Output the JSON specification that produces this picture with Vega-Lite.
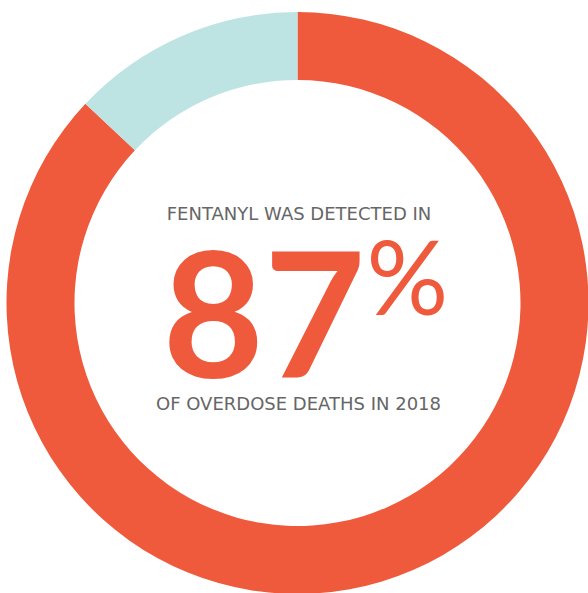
{
  "$schema": "https://vega.github.io/schema/vega-lite/v6.json",
  "width": 595,
  "height": 606,
  "padding": 0,
  "autosize": {"type": "none"},
  "background": "white",
  "view": {"stroke": null},
  "layer": [
    {
      "data": {"values": [
        {"category": "Fentanyl detected", "share": 87, "order": 1},
        {"category": "Fentanyl not detected", "share": 13, "order": 2}
      ]},
      "mark": {"type": "arc", "outerRadius": 291, "innerRadius": 223},
      "encoding": {
        "theta": {"field": "share", "type": "quantitative", "stack": true},
        "order": {"field": "order", "type": "quantitative"},
        "color": {
          "field": "category", "type": "nominal",
          "scale": {"domain": ["Fentanyl detected", "Fentanyl not detected"], "range": ["#EE5A3B", "#BDE3E3"]},
          "legend": null
        }
      }
    },
    {
      "data": {"values": [{"t": "FENTANYL WAS DETECTED IN"}]},
      "mark": {"type": "text", "font": "DejaVu Sans", "fontSize": 18, "color": "#666666", "align": "center", "baseline": "middle", "dx": 1.5, "dy": -88},
      "encoding": {"text": {"field": "t", "type": "nominal"}}
    },
    {
      "data": {"values": [{"t": "OF OVERDOSE DEATHS IN 2018"}]},
      "mark": {"type": "text", "font": "DejaVu Sans", "fontSize": 18, "color": "#666666", "align": "center", "baseline": "middle", "dx": 1, "dy": 102},
      "encoding": {"text": {"field": "t", "type": "nominal"}}
    },
    {
      "data": {"values": [{"t": "87"}]},
      "mark": {"type": "text", "font": "Lato", "fontWeight": "bold", "fontSize": 175, "color": "#EE5A3B", "align": "right", "baseline": "alphabetic", "dx": 68, "dy": 75},
      "encoding": {"text": {"field": "t", "type": "nominal"}}
    },
    {
      "data": {"values": [{"t": "%"}]},
      "mark": {"type": "text", "font": "Lato", "fontWeight": "normal", "fontSize": 102, "color": "#EE5A3B", "align": "left", "baseline": "alphabetic", "dx": 69, "dy": 12},
      "encoding": {"text": {"field": "t", "type": "nominal"}}
    }
  ]
}
